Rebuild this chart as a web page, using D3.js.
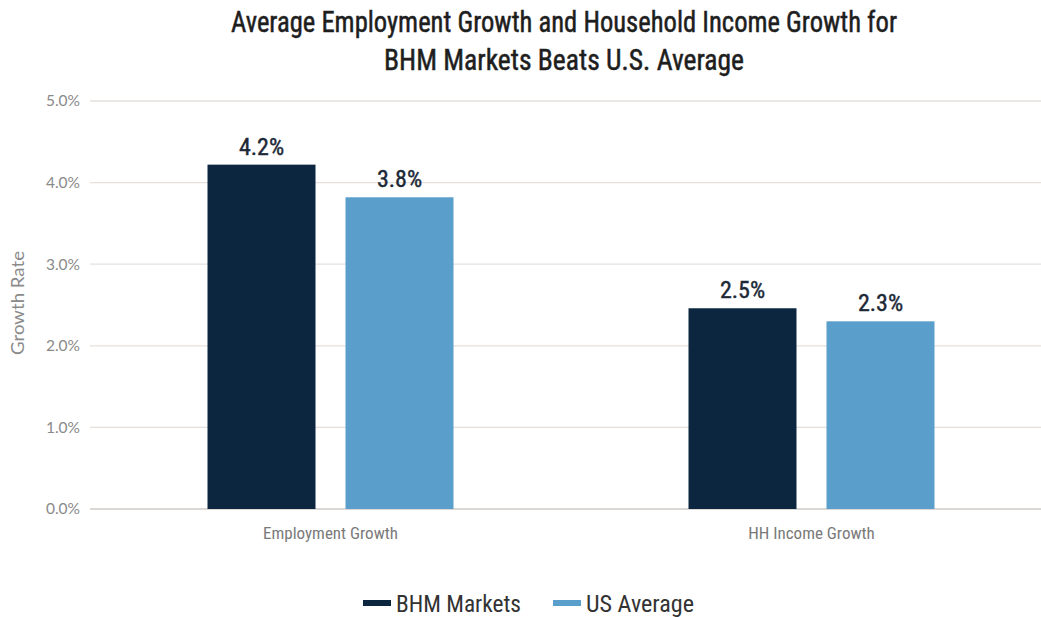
<!DOCTYPE html>
<html><head><meta charset="utf-8">
<script src="https://cdn.jsdelivr.net/npm/d3@7"></script>
<style>body{margin:0;background:#fff}</style>
</head><body>
<svg id="c" width="1041" height="617"></svg>
<script>
const categories = ["Employment Growth", "HH Income Growth"];
const seriesNames = ["BHM Markets", "US Average"];
const bhmValues = [4.22, 2.46];
const usValues = [3.82, 2.30];
const yTicks = [0, 1, 2, 3, 4, 5];
const colors = ["#0c2640", "#5a9ecb"];
const titleLines = ["Average Employment Growth and Household Income Growth for", "BHM Markets Beats U.S. Average"];

const cond = "'Liberation Sans Narrow','Arial Narrow','Roboto Condensed',sans-serif";
const svg = d3.select("#c");
const x0 = d3.scaleBand().domain(categories).range([90, 1052]).padding(0);
const x1 = d3.scaleBand().domain(seriesNames).range([0, 246]).paddingInner(30 / 138);
const y = d3.scaleLinear().domain([0, 5]).range([509, 101]);

// gridlines
svg.append("g").selectAll("line").data(yTicks).join("line")
  .attr("x1", 90).attr("x2", 1041)
  .attr("y1", d => y(d)).attr("y2", d => y(d))
  .attr("stroke", d => d === 0 ? "#cfcac6" : "#e6e0dc").attr("stroke-width", 1.3);

// y axis labels
const ya = svg.append("g").attr("transform", "translate(80,0)")
  .call(d3.axisLeft(y).tickValues(yTicks).tickSize(0).tickPadding(0).tickFormat(d => d3.format(".1f")(d) + "%"));
ya.select(".domain").remove();
ya.selectAll("text").attr("font-family", "'Lato','Open Sans',sans-serif").attr("font-size", 15.5).attr("fill", "#8a8a8a");

svg.append("text").attr("transform", "translate(24,303) rotate(-90)")
  .attr("text-anchor", "middle").attr("font-family", "'Lato','Open Sans',sans-serif")
  .attr("font-size", 18).attr("fill", "#8a8a8a")
  .attr("textLength", 104).attr("lengthAdjust", "spacingAndGlyphs").text("Growth Rate");

// x axis labels
const xa = svg.append("g").attr("transform", "translate(0,509)")
  .call(d3.axisBottom(x0).tickSize(0).tickPadding(18));
xa.select(".domain").remove();
xa.selectAll("text").attr("font-family", cond).attr("font-size", 17).attr("fill", "#7a7a7a");

// bars
const rows = categories.map((c, i) => ({cat: c, vals: [bhmValues[i], usValues[i]]}));
const g = svg.append("g").selectAll("g").data(rows).join("g")
  .attr("transform", d => `translate(${x0(d.cat) + x0.bandwidth()/2 - 123},0)`);
g.selectAll("rect").data(d => d.vals.map((v, j) => ({s: seriesNames[j], v, j}))).join("rect")
  .attr("x", d => x1(d.s)).attr("width", x1.bandwidth())
  .attr("y", d => y(d.v)).attr("height", d => y(0) - y(d.v))
  .attr("fill", d => colors[d.j]);
g.selectAll("text.v").data(d => d.vals.map((v, j) => ({s: seriesNames[j], v, j}))).join("text")
  .attr("class", "v")
  .attr("x", d => x1(d.s) + x1.bandwidth()/2).attr("y", d => y(d.v) - 10)
  .attr("text-anchor", "middle").attr("font-family", cond).attr("font-size", 24)
  .attr("fill", "#1c2836").attr("stroke", "#1c2836").attr("stroke-width", 0.4)
  .text(d => d3.format(".1f")(d.v) + "%");

// title
const tlen = [666, 360];
svg.append("g").selectAll("text").data(titleLines).join("text")
  .attr("x", 564).attr("y", (d, i) => 32 + i * 38)
  .attr("text-anchor", "middle").attr("font-family", cond).attr("font-size", 30)
  .attr("fill", "#1e1e1e").attr("stroke", "#1e1e1e").attr("stroke-width", 0.5)
  .attr("textLength", (d, i) => tlen[i]).attr("lengthAdjust", "spacingAndGlyphs")
  .text(d => d);

// legend
const leg = [{n: seriesNames[0], x: 363, c: colors[0], w: 125}, {n: seriesNames[1], x: 553, c: colors[1], w: 108}];
const lg = svg.append("g").selectAll("g").data(leg).join("g")
  .attr("transform", d => `translate(${d.x},603)`);
lg.append("rect").attr("y", -3).attr("width", 28).attr("height", 6).attr("fill", d => d.c);
lg.append("text").attr("x", 33).attr("y", 9).attr("font-family", cond)
  .attr("font-size", 24).attr("fill", "#333")
  .attr("textLength", d => d.w).attr("lengthAdjust", "spacingAndGlyphs").text(d => d.n);
</script>
</body></html>
